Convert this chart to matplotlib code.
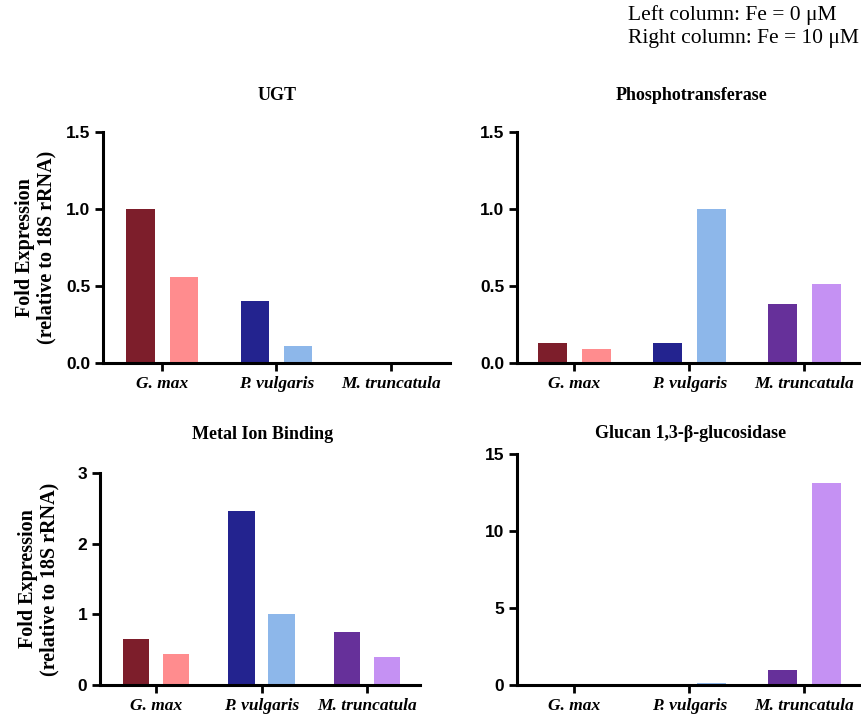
import matplotlib
matplotlib.use("Agg")
import matplotlib.pyplot as plt
import numpy as np

species = ["G. max", "P. vulgaris", "M. truncatula"]
titles = ["UGT", "Phosphotransferase", "Metal Ion Binding", "Glucan 1,3-β-glucosidase"]

# [Fe=0, Fe=10] per species
ugt_fe0 = [1.00, 0.40, 0.0]
ugt_fe10 = [0.56, 0.11, 0.0]
phos_fe0 = [0.13, 0.13, 0.38]
phos_fe10 = [0.09, 1.00, 0.51]
metal_fe0 = [0.65, 2.46, 0.75]
metal_fe10 = [0.44, 1.00, 0.40]
glucan_fe0 = [0.0, 0.0, 1.0]
glucan_fe10 = [0.0, 0.1, 13.1]

yticks_sets = [[0.0, 0.5, 1.0, 1.5], [0.0, 0.5, 1.0, 1.5], [0, 1, 2, 3], [0, 5, 10, 15]]
ytick_labels = [["0.0", "0.5", "1.0", "1.5"], ["0.0", "0.5", "1.0", "1.5"],
                ["0", "1", "2", "3"], ["0", "5", "10", "15"]]

dark_colors = ["#7d1e2b", "#23238f", "#66309a"]
light_colors = ["#ff8c8e", "#8db7ea", "#c591f3"]

W, H = 862, 714
fig = plt.figure(figsize=(W / 100, H / 100), dpi=100)

def px_axes(x0, y0, x1, y1):
    return fig.add_axes([x0 / W, 1 - y1 / H, (x1 - x0) / W, (y1 - y0) / H])

panels = [
    (px_axes(103, 132, 450, 363), ugt_fe0, ugt_fe10, (-0.52, 2.52), (277, 95), 7),
    (px_axes(517, 132, 862, 363), phos_fe0, phos_fe10, (-0.5, 2.5), (692, 95), 7),
    (px_axes(100, 473, 420, 685), metal_fe0, metal_fe10, (-0.53, 2.5), (263, 435), 13),
    (px_axes(517, 454, 862, 685), glucan_fe0, glucan_fe10, (-0.5, 2.5), (691, 434), 7),
]

serif = "Liberation Serif"
sans = "Liberation Sans"
bw = 0.25
off = 0.19
x = np.arange(len(species))

for i, (ax, v0, v10, xl, tpos, lpad) in enumerate(panels):
    ax.bar(x - off, v0, width=bw, color=dark_colors, linewidth=0)
    ax.bar(x + off, v10, width=bw, color=light_colors, linewidth=0)
    ax.set_xlim(*xl)
    yt = yticks_sets[i]
    ax.set_ylim(yt[0], yt[-1])
    ax.set_yticks(yt)
    ax.set_yticklabels(ytick_labels[i], fontfamily=sans, fontweight="bold", fontsize=12.5)
    ax.set_xticks(x)
    ax.set_xticklabels(species, fontfamily=serif, fontweight="bold", fontstyle="italic", fontsize=12.5)
    for s in ["top", "right"]:
        ax.spines[s].set_visible(False)
    for s in ["left", "bottom"]:
        ax.spines[s].set_linewidth(2.2)
    ax.tick_params(axis="both", width=2, length=6, direction="out", pad=3)
    ax.patch.set_alpha(0)
    fig.text(tpos[0] / W, 1 - tpos[1] / H, titles[i], ha="center", va="center",
             fontfamily=serif, fontweight="bold", fontsize=13)
    if i in (0, 2):
        ax.set_ylabel("Fold Expression\n(relative to 18S rRNA)", fontfamily=serif,
                      fontweight="bold", fontsize=14.5, labelpad=lpad, linespacing=1.1)

fig.text(628 / W, 1 - 15 / H, "Left column: Fe = 0 μM", ha="left", va="center",
         fontfamily=serif, fontsize=15.5)
fig.text(628 / W, 1 - 38 / H, "Right column: Fe = 10 μM", ha="left", va="center",
         fontfamily=serif, fontsize=15.5)

fig.savefig("out.png", dpi=100)
